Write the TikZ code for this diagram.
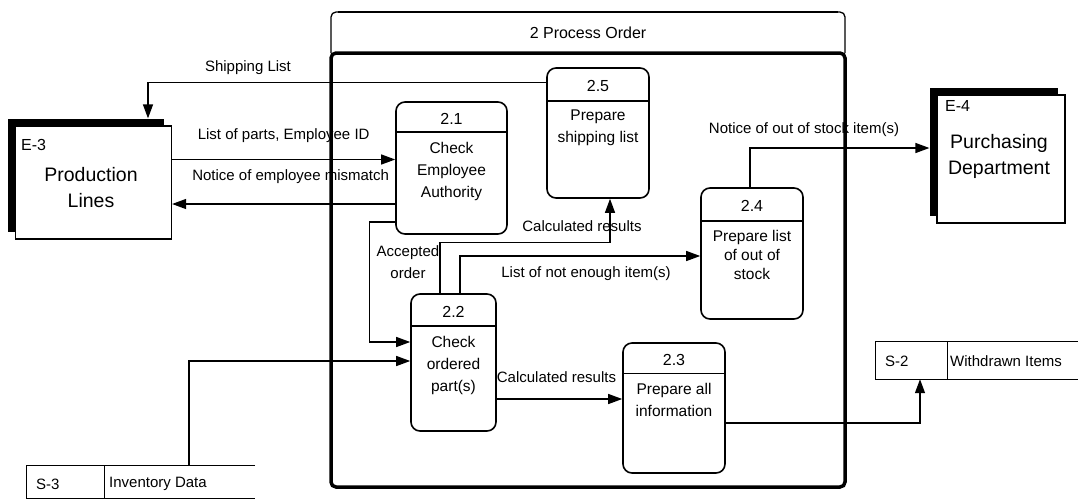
\documentclass[tikz,border=0pt]{standalone}
\usepackage{fontspec}
\setmainfont{Liberation Sans}
\usetikzlibrary{arrows.meta,shadows}

\begin{document}
\begin{tikzpicture}[x=1pt,y=-1pt,
    flow/.style={line width=1.3pt,-{Triangle[length=14pt,width=10pt]}},
    proc/.style={draw,line width=1.6pt,rounded corners=9pt,fill=white},
    ext/.style={draw,line width=1.2pt,fill=white,general shadow={fill=black,shadow xshift=-7.5pt,shadow yshift=7pt}},
    lbl/.style={font=\fontsize{15}{18}\selectfont,inner sep=0pt},
    num/.style={font=\fontsize{16}{18}\selectfont,inner sep=0pt},
    ptxt/.style={font=\fontsize{15.5}{22}\selectfont,align=center,inner sep=0pt},
    etxt/.style={font=\fontsize{19.5}{26}\selectfont,align=center,inner sep=0pt}]
  \useasboundingbox (0,0) rectangle (1078,499);

  % process frame
  \draw[line width=1.3pt,rounded corners=5pt] (331,53) |- (845,12) -- (845,53);
  \draw[line width=2.8pt] (338,12) -- (838,12);
  \draw[line width=3.5pt,rounded corners=5pt] (331,53) -- (331,487) -- (845,487) -- (845,53) -- cycle;
  \node[num] (title) at (588,33) {2 Process Order};

  % external entities
  \node[ext,minimum width=156pt,minimum height=113pt] (e3) at (93.5,182.5) {};
  \node[num,anchor=west] (e3-id) at (21,145) {E-3};
  \node[etxt] (e3-txt) at (91,187.5) {Production\\Lines};
  \node[ext,minimum width=128pt,minimum height=128pt] (e4) at (1001,159) {};
  \node[num,anchor=west] (e4-id) at (945,106) {E-4};
  \node[etxt] (e4-txt) at (999,156) {Purchasing\\Department};

  % data stores
  \node[minimum width=228pt,minimum height=32pt,inner sep=0pt] (s3) at (141,482) {};
  \draw[line width=1.2pt] (s3.north east) -- (s3.north west) -- (s3.south west) -- (s3.south east);
  \draw[line width=1.2pt] ([xshift=78pt]s3.north west) -- ([xshift=78pt]s3.south west);
  \node[lbl,anchor=west] (s3-id) at (36,484) {S-3};
  \node[lbl,anchor=west] (s3-txt) at (109,484) {Inventory Data};
  \node[minimum width=202pt,minimum height=37pt,inner sep=0pt] (s2) at (977,360.5) {};
  \draw[line width=1.2pt] (s2.north east) -- (s2.north west) -- (s2.south west) -- (s2.south east);
  \draw[line width=1.2pt] ([xshift=72pt]s2.north west) -- ([xshift=72pt]s2.south west);
  \node[lbl,anchor=west] (s2-id) at (885,361) {S-2};
  \node[lbl,anchor=west] (s2-txt) at (950,361) {Withdrawn Items};

  % processes
  \node[proc,minimum width=111pt,minimum height=132pt] (p21) at (451.5,168) {};
  \draw[line width=1.4pt] (p21.west |- 0,132) -- (p21.east |- 0,132);
  \node[num] (p21-no) at (451.5,119) {2.1};
  \node[ptxt] (p21-txt) at (451.5,171) {Check\\Employee\\Authority};

  \node[proc,minimum width=85pt,minimum height=137pt] (p22) at (453.5,362.5) {};
  \draw[line width=1.4pt] (p22.west |- 0,326) -- (p22.east |- 0,326);
  \node[num] (p22-no) at (453.5,312) {2.2};
  \node[ptxt] (p22-txt) at (453.5,365) {Check\\ordered\\part(s)};

  \node[proc,minimum width=102pt,minimum height=130pt] (p23) at (674,408) {};
  \draw[line width=1.4pt] (p23.west |- 0,373.5) -- (p23.east |- 0,373.5);
  \node[num] (p23-no) at (674,360) {2.3};
  \node[ptxt] (p23-txt) at (674,400) {Prepare all\\information};

  \node[proc,minimum width=102pt,minimum height=131pt] (p24) at (752,253.5) {};
  \draw[line width=1.4pt] (p24.west |- 0,221) -- (p24.east |- 0,221);
  \node[num] (p24-no) at (752,206) {2.4};
  \node[ptxt,font=\fontsize{15.5}{19}\selectfont] (p24-txt) at (752,255) {Prepare list\\of out of\\stock};

  \node[proc,minimum width=102pt,minimum height=130pt] (p25) at (598,133) {};
  \draw[line width=1.4pt] (p25.west |- 0,101) -- (p25.east |- 0,101);
  \node[num] (p25-no) at (598,86) {2.5};
  \node[ptxt] (p25-txt) at (598,128) {Prepare\\shipping list};

  % data flows
  \draw[flow] ([yshift=-15pt]p25.north west) -| ([xshift=54.5pt,yshift=7pt]e3.north);
  \node[lbl] (ship) at (248,68) {Shipping List};
  \draw[flow] ([yshift=23pt]e3.east) -- ([yshift=23pt]e3.east -| p21.west)
    node[lbl,midway,yshift=23.5pt] (parts) {List of parts, Employee ID};
  \draw[flow] ([yshift=-21.5pt]e3.east -| p21.west) -- ([yshift=-21.5pt]e3.east)
    node[lbl,midway,yshift=27pt,xshift=7pt] (mism) {Notice of employee mismatch};
  \draw[flow] ([yshift=-54pt]p21.west) -- ++(-26,0) |- ([yshift=20.5pt]p22.west);
  \node[lbl,align=center,font=\fontsize{15}{22}\selectfont] (acc) at (408,262) {Accepted\\order};
  \draw[flow] ([xshift=-13.5pt]p22.north) -- ++(0,-51) -| ([xshift=12pt]p25.south);
  \node[lbl] (calc1) at (582,226) {Calculated results};
  \draw[flow] ([xshift=6.5pt]p22.north) |- ([yshift=-2.5pt]p24.west);
  \node[lbl] (short) at (586,274) {List of not enough item(s)};
  \draw[flow] ([xshift=-2pt]p24.north) |- ([xshift=-7pt,yshift=11pt]e4.west);
  \node[lbl] (oos) at (804,130) {Notice of out of stock item(s)};
  \draw[flow] ([xshift=48pt]s3.north) |- ([yshift=1.5pt]p22.west);
  \draw[flow] ([yshift=-36.5pt]p22.east) -- ([yshift=-36.5pt]p22.east -| p23.west)
    node[lbl,midway,yshift=22pt,xshift=-3pt] (calc2) {Calculated results};
  \draw[flow] ([yshift=-15pt]p23.east) -| ([xshift=-57pt]s2.south);
\end{tikzpicture}
\end{document}
